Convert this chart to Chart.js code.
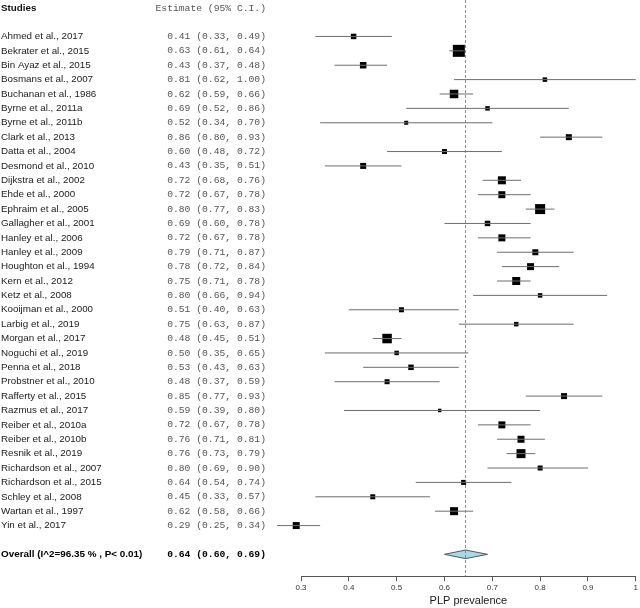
<!DOCTYPE html>
<html>
<head>
<meta charset="utf-8">
<script src="https://cdn.jsdelivr.net/npm/chart.js@4/dist/chart.umd.min.js"></script>
<style>
  body { margin: 0; background: #fff; }
  canvas { display: block; }
</style>
</head>
<body>
<canvas id="forest" width="640" height="608"></canvas>
<script>
// studies, point estimates and 95% CI bounds
const studies = [
  'Ahmed et al., 2017', 'Bekrater et al., 2015', 'Bin Ayaz et al., 2015', 'Bosmans et al., 2007',
  'Buchanan et al., 1986', 'Byrne et al., 2011a', 'Byrne et al., 2011b', 'Clark et al., 2013',
  'Datta et al., 2004', 'Desmond et al., 2010', 'Dijkstra et al., 2002', 'Ehde et al., 2000',
  'Ephraim et al., 2005', 'Gallagher et al., 2001', 'Hanley et al., 2006', 'Hanley et al., 2009',
  'Houghton et al., 1994', 'Kern et al., 2012', 'Ketz et al., 2008', 'Kooijman et al., 2000',
  'Larbig et al., 2019', 'Morgan et al., 2017', 'Noguchi et al., 2019', 'Penna et al., 2018',
  'Probstner et al., 2010', 'Rafferty et al., 2015', 'Razmus et al., 2017', 'Reiber et al., 2010a',
  'Reiber et al., 2010b', 'Resnik et al., 2019', 'Richardson et al., 2007', 'Richardson et al., 2015',
  'Schley et al., 2008', 'Wartan et al., 1997', 'Yin et al., 2017'
];
const est = [0.41, 0.63, 0.43, 0.81, 0.62, 0.69, 0.52, 0.86, 0.60, 0.43, 0.72, 0.72, 0.80, 0.69, 0.72, 0.79,
  0.78, 0.75, 0.80, 0.51, 0.75, 0.48, 0.50, 0.53, 0.48, 0.85, 0.59, 0.72, 0.76, 0.76, 0.80, 0.64, 0.45, 0.62, 0.29];
const lo = [0.33, 0.61, 0.37, 0.62, 0.59, 0.52, 0.34, 0.80, 0.48, 0.35, 0.68, 0.67, 0.77, 0.60, 0.67, 0.71,
  0.72, 0.71, 0.66, 0.40, 0.63, 0.45, 0.35, 0.43, 0.37, 0.77, 0.39, 0.67, 0.71, 0.73, 0.69, 0.54, 0.33, 0.58, 0.25];
const hi = [0.49, 0.64, 0.48, 1.00, 0.66, 0.86, 0.70, 0.93, 0.72, 0.51, 0.76, 0.78, 0.83, 0.78, 0.78, 0.87,
  0.84, 0.78, 0.94, 0.63, 0.87, 0.51, 0.65, 0.63, 0.59, 0.93, 0.80, 0.78, 0.81, 0.79, 0.90, 0.74, 0.57, 0.66, 0.34];
// relative study weights (drive the box size)
const weights = [5.5, 12, 6.5, 4.5, 8.5, 4.5, 4, 6, 5, 6, 8, 7, 10, 5.5, 7, 6, 7, 8, 4.5, 5, 4.5, 9.5, 4.5, 5.5,
  5, 6, 3.5, 7, 7, 9, 5, 5, 5, 8, 7];

const overallLabel = 'Overall (I^2=96.35 % , P< 0.01)';
const overall = { est: 0.644, lo: 0.60, hi: 0.69 };
const xTicks = [0.3, 0.4, 0.5, 0.6, 0.7, 0.8, 0.9, 1.0];
const xTitle = 'PLP prevalence';

const overallRow = studies.length + 1;
const headerRow = -1.95;
const yTop = -2.534, yBottom = 37.52;

const wMin = Math.min(...weights), wMax = Math.max(...weights);
const boxSide = w => 3.5 + (w - wMin) / (wMax - wMin) * 8.5;

const datasets = [];

// reference line at the pooled estimate
datasets.push({
  data: [{ x: overall.est, y: yTop }, { x: overall.est, y: yBottom }],
  showLine: true, borderColor: 'rgba(255,50,50,0.8)', borderWidth: 1,
  borderDash: [3, 2], pointRadius: 0, clip: false
});

// CI whiskers
studies.forEach((s, i) => {
  datasets.push({
    data: [{ x: lo[i], y: i }, { x: hi[i], y: i }],
    showLine: true, borderColor: '#6e6e6e', borderWidth: 1,
    pointRadius: 0, clip: false
  });
});

// boxes
datasets.push({
  data: est.map((v, i) => ({ x: v, y: i })),
  pointStyle: 'rect',
  pointRadius: weights.map(w => boxSide(w) / Math.SQRT2),
  backgroundColor: '#000', borderWidth: 0, clip: false
});

// pooled diamond
const dh = 0.3;
datasets.push({
  data: [
    { x: overall.lo, y: overallRow }, { x: overall.est, y: overallRow - dh },
    { x: overall.hi, y: overallRow }, { x: overall.est, y: overallRow + dh },
    { x: overall.lo, y: overallRow }
  ],
  showLine: true, fill: 'shape', tension: 0,
  backgroundColor: '#a9d9e4', borderColor: '#555', borderWidth: 1,
  pointRadius: 0, clip: false
});

const fmt = (e, l, h) => e.toFixed(2) + ' (' + l.toFixed(2) + ', ' + h.toFixed(2) + ')';

const SANS = '"Liberation Sans", Arial, sans-serif';
const MONO = '"Liberation Mono", "Courier New", monospace';

const textColumns = {
  id: 'textColumns',
  afterDraw(chart) {
    const ctx = chart.ctx;
    const y = chart.scales.y;
    ctx.save();
    ctx.textBaseline = 'middle';
    ctx.textAlign = 'left';
    ctx.fillStyle = '#111';
    ctx.font = 'bold 9.8px ' + SANS;
    ctx.fillText('Studies', 1, y.getPixelForValue(headerRow));
    ctx.font = '9.7px ' + MONO;
    ctx.fillStyle = '#555';
    ctx.textAlign = 'right';
    ctx.fillText('Estimate (95% C.I.)', 266, y.getPixelForValue(headerRow));

    studies.forEach((s, i) => {
      const py = y.getPixelForValue(i);
      ctx.textAlign = 'left';
      ctx.fillStyle = '#1a1a1a';
      ctx.font = '9.8px ' + SANS;
      ctx.fillText(s, 1, py);
      ctx.textAlign = 'right';
      ctx.fillStyle = '#555';
      ctx.font = '9.7px ' + MONO;
      ctx.fillText(fmt(est[i], lo[i], hi[i]), 266, py);
    });

    const oy = y.getPixelForValue(overallRow);
    ctx.textAlign = 'left';
    ctx.fillStyle = '#000';
    ctx.font = 'bold 9.9px ' + SANS;
    ctx.fillText(overallLabel, 1, oy);
    ctx.textAlign = 'right';
    ctx.font = 'bold 9.7px ' + MONO;
    ctx.fillText(fmt(overall.est, overall.lo, overall.hi), 266, oy);
    ctx.restore();
  }
};

new Chart(document.getElementById('forest'), {
  type: 'scatter',
  data: { datasets: datasets },
  options: {
    responsive: false,
    animation: false,
    layout: { autoPadding: false, padding: { left: 301, right: 4, top: 0, bottom: 0 } },
    plugins: { legend: { display: false }, tooltip: { enabled: false } },
    scales: {
      x: {
        type: 'linear', min: xTicks[0], max: xTicks[xTicks.length - 1],
        afterBuildTicks: axis => { axis.ticks = xTicks.map(v => ({ value: v })); },
        grid: { drawOnChartArea: false, drawTicks: true, tickLength: 5, color: '#555' },
        border: { display: true, color: '#555', width: 1 },
        ticks: {
          padding: 2, color: '#333', maxRotation: 0, autoSkip: false,
          font: { family: SANS, size: 8 },
          callback: v => String(+v.toFixed(1))
        },
        title: {
          display: true, text: xTitle, color: '#1a1a1a',
          font: { family: SANS, size: 11 },
          padding: { top: 0, bottom: 0 }
        }
      },
      y: {
        type: 'linear', reverse: true, min: yTop, max: yBottom, display: false
      }
    }
  },
  plugins: [textColumns]
});
</script>
</body>
</html>
